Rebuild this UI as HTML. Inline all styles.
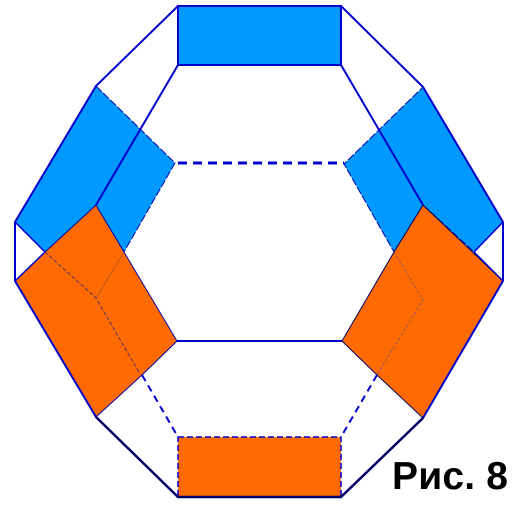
<!DOCTYPE html>
<html><head><meta charset="utf-8"><style>
html,body{margin:0;padding:0;background:#fff;width:519px;height:505px;overflow:hidden}
svg{display:block}
</style></head><body>
<svg width="519" height="505" viewBox="0 0 519 505">
<g fill="#0099ff">
<rect x="178" y="6" width="163" height="59" stroke="#0000cc" stroke-width="2"/>
<polygon points="96,86 175,163 124,252 45,252 15,222" stroke="#0000aa" stroke-width="1" stroke-dasharray="8,2"/>
<polygon points="423,87 503,222 474,252 423,205 394,252 344,164" stroke="#0000aa" stroke-width="1" stroke-dasharray="8,2"/>
</g>
<g fill="#ff6a00">
<polygon points="96,205 177,341 142,375 96,417 15,281 45,252" stroke="#0000aa" stroke-width="1"/>
<polygon points="423,205 503,281 423,418 377,375 342,341 394,252" stroke="#000066" stroke-width="1"/>
<rect x="178" y="437" width="163" height="60" stroke="#0000cc" stroke-width="1.5" stroke-dasharray="6,3"/>
</g>
<g fill="none" stroke="#0000cc" stroke-width="2">
<polyline points="178,6 96,86 15,222 15,281 96,417"/>
<polyline points="341,6 423,87 503,222 503,281 423,418"/>
<polyline points="96,417 178,497 341,497 423,418" stroke="#000066" stroke-width="2.5"/>
<line x1="178" y1="65" x2="96" y2="205"/>
<line x1="341" y1="65" x2="423" y2="205"/>
<line x1="177" y1="341" x2="342" y2="341"/>
<line x1="15" y1="222" x2="45" y2="252" stroke-width="1.5"/>
<line x1="503" y1="222" x2="474" y2="252" stroke-width="1.5"/>
<line x1="15" y1="281" x2="45" y2="252" stroke-width="1.5"/>
<line x1="503" y1="281" x2="474" y2="252" stroke-width="1.5"/>
<line x1="178" y1="163" x2="344" y2="163" stroke-width="3" stroke-dasharray="9,6"/>
<line x1="142" y1="375" x2="178" y2="437" stroke-dasharray="7,5"/>
<line x1="377" y1="375" x2="341" y2="437" stroke-dasharray="7,5"/>
<polyline points="45,252 96,298 140,374" stroke="#553366" stroke-width="1" stroke-dasharray="4,2"/>
<polyline points="394,252 423,300 377,375" stroke="#775577" stroke-width="0.8" stroke-dasharray="3,2"/>
<line x1="124" y1="252" x2="96" y2="298" stroke="#aa5533" stroke-width="0.8"/>
</g>
<text x="392" y="489" font-family="Liberation Sans, sans-serif" font-weight="bold" font-size="39" textLength="116" fill="#000">Рис. 8</text>
</svg>
</body></html>
